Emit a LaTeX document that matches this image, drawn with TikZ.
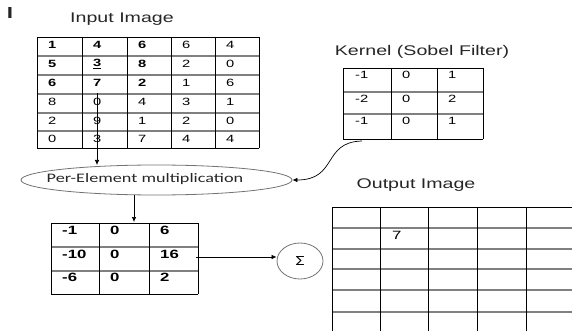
\documentclass[tikz,border=0pt]{standalone}
\usepackage{fontspec}
\setmainfont{Liberation Sans}[FakeStretch=1.4]
\newfontfamily\calib{Carlito}[FakeStretch=1.4]
\usetikzlibrary{arrows.meta,shapes.geometric}
\begin{document}
\begin{tikzpicture}[x=1pt,y=-1pt,
  vline/.style={black,line width=0.9pt},
  hline/.style={black!50,line width=1.2pt},
  num/.style={anchor=west,inner sep=0pt,font=\fontsize{10.5}{12}\selectfont},
  bnum/.style={anchor=west,inner sep=0pt,font=\fontsize{10.5}{12}\selectfont\bfseries},
  knum/.style={anchor=west,inner sep=0pt,font=\fontsize{10.5}{12}\selectfont},
  pnum/.style={anchor=west,inner sep=0pt,font=\fontsize{12}{14}\selectfont\bfseries},
  lbl/.style={inner sep=0pt,text=black!85,font=\fontsize{14}{16}\selectfont},
  arr/.style={-{Latex[length=5pt,width=4.5pt]},line width=0.7pt}]
\useasboundingbox (0,0) rectangle (572,331);

% cursor mark
\node[lbl,font=\fontsize{16}{18}\selectfont\bfseries] (cursor) at (10,13) {I};

% ---------- Input image ----------
\node[lbl] (inlbl) at (122,19) {Input Image};
\foreach \y in {56,75,94,113,131} \draw[hline] (37,\y) -- (259,\y);
\foreach \x in {37,82,127,171,215,259} \draw[vline] (\x,37) -- (\x,148);
\draw[vline] (37,37) -- (259,37) (37,148) -- (259,148);
\foreach \y/\a/\b/\c/\d/\e in {45/1/4/6/6/4, 64/5/{\underline{3}}/8/2/0, 83/6/7/2/1/6}{
  \node[bnum] (ia\y) at (48,\y) {\a};
  \node[bnum] (ib\y) at (93,\y) {\b};
  \node[bnum] (ic\y) at (138,\y) {\c};
  \node[num] (id\y) at (182,\y) {\d};
  \node[num] (ie\y) at (226,\y) {\e};
}
\foreach \y/\a/\b/\c/\d/\e in {102/8/0/4/3/1, 121/2/9/1/2/0, 139/0/3/7/4/4}{
  \node[num] (ia\y) at (48,\y) {\a};
  \node[num] (ib\y) at (93,\y) {\b};
  \node[num] (ic\y) at (138,\y) {\c};
  \node[num] (id\y) at (182,\y) {\d};
  \node[num] (ie\y) at (226,\y) {\e};
}

% ---------- Kernel ----------
\node[lbl] (klbl) at (422,52) {Kernel (Sobel Filter)};
\foreach \y in {92,114} \draw[hline] (343,\y) -- (483,\y);
\foreach \x in {343,391,437,483} \draw[vline] (\x,68) -- (\x,139);
\draw[vline] (343,68) -- (483,68) (343,139) -- (483,139);
\foreach \y/\a/\b/\c in {75/-1/0/1, 99/-2/0/2, 121/-1/0/1}{
  \node[knum] (ka\y) at (355,\y) {\a};
  \node[knum] (kb\y) at (402,\y) {\b};
  \node[knum] (kc\y) at (448,\y) {\c};
}

% ---------- Multiplication ----------
\node[ellipse,draw=black!55,line width=0.8pt,minimum width=271pt,minimum height=30pt,inner sep=0pt] (mult) at (156.5,180) {};
\node[inner sep=0pt,text=black!85,font=\calib\fontsize{13}{15}\selectfont] (multtxt) at (145,179) {Per-Element multiplication};

% ---------- Product ----------
\foreach \y in {247,271} \draw[hline] (51,\y) -- (198,\y);
\foreach \x in {51,99,149,198} \draw[vline] (\x,223) -- (\x,294);
\draw[vline] (51,223) -- (198,223) (51,294) -- (198,294);
\foreach \y/\a/\b/\c in {230/-1/0/6, 254/-10/0/16, 277/-6/0/2}{
  \node[pnum] (pa\y) at (62,\y) {\a};
  \node[pnum] (pb\y) at (110,\y) {\b};
  \node[pnum] (pc\y) at (160,\y) {\c};
}

% ---------- Sum ----------
\node[ellipse,draw=black!55,line width=0.8pt,minimum width=46pt,minimum height=36pt,inner sep=0pt,font=\calib\fontsize{14}{16}\selectfont] (sum) at (300,261) {Σ};

% ---------- Output image ----------
\node[lbl] (outlbl) at (416,185) {Output Image};
\foreach \y in {228,249,269,290,312} \draw[hline] (332,\y) -- (572,\y);
\draw[vline] (332,207) -- (572,207);
\foreach \x in {332,380,428,477,526} \draw[vline] (\x,207) -- (\x,331);
\node[knum,font=\fontsize{12}{14}\selectfont] (out7) at (392,235) {7};

% ---------- Connectors ----------
\coordinate (inA) at (97,93);
\coordinate (inB) at (97,165);
\draw[arr] (inA) -- (inB);
\coordinate (kB) at (362,141);
\draw[arr] (kB) .. controls (322,142) and (338,180) .. (mult.east);
\coordinate (mB) at (134,195);
\coordinate (pT) at (134,222);
\draw[arr] (mB) -- (pT);
\coordinate (pR) at (196,257);
\draw[arr] (pR) -- (pR -| sum.west);
\end{tikzpicture}
\end{document}
